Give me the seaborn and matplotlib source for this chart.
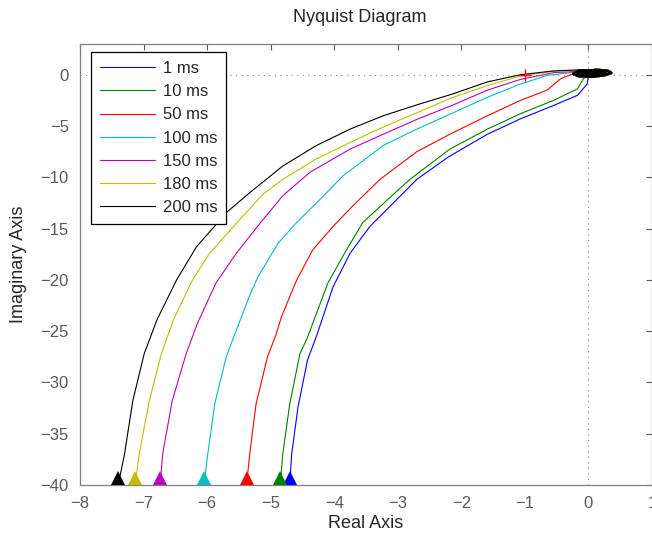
import numpy as np
import pandas as pd
import seaborn as sns
import matplotlib.pyplot as plt

sns.set_style("white")
plt.rcParams['font.family'] = ['Liberation Sans', 'DejaVu Sans']

labels = ['1 ms', '10 ms', '50 ms', '100 ms', '150 ms', '180 ms', '200 ms']
colors = ['b', 'g', 'r', 'c', 'm', 'y', 'k']

# curves, from the bottom (-40) up to the origin
re_1 = [-4.70, -4.67, -4.57, -4.42, -4.28, -4.02, -3.75, -3.44, -3.07, -2.70, -2.20, -1.59, -1.07, -0.55, -0.17, -0.02, 0.00]
im_1 = [-40.0, -37.0, -32.4, -27.8, -25.5, -20.7, -17.4, -14.8, -12.5, -10.2, -8.0, -5.8, -4.3, -3.0, -2.0, -0.9, -0.07]
re_10 = [-4.85, -4.81, -4.70, -4.54, -4.42, -4.10, -3.81, -3.55, -3.18, -2.81, -2.18, -1.59, -1.07, -0.55, -0.17, -0.08]
im_10 = [-40.0, -37.0, -32.1, -27.2, -25.6, -20.3, -17.1, -14.4, -12.3, -10.2, -7.25, -5.3, -3.8, -2.5, -1.37, -0.4]
re_50 = [-5.38, -5.33, -5.23, -5.05, -4.92, -4.83, -4.59, -4.34, -4.02, -3.71, -3.28, -2.70, -2.18, -1.59, -1.07, -0.65, -0.44, -0.28]
im_50 = [-40.0, -37.0, -32.1, -27.5, -25.4, -23.6, -20.0, -17.1, -14.8, -12.8, -10.2, -7.5, -5.8, -4.0, -2.5, -1.5, -0.4, 0.0]
re_100 = [-6.05, -5.99, -5.88, -5.70, -5.54, -5.33, -5.20, -4.88, -4.59, -4.23, -3.86, -3.23, -2.70, -2.16, -1.59, -1.07, -0.65, -0.28]
im_100 = [-40.0, -37.0, -32.1, -27.5, -24.9, -21.5, -19.7, -16.4, -14.4, -12.2, -9.85, -6.9, -5.3, -3.8, -2.2, -0.9, -0.07, 0.2]
re_150 = [-6.74, -6.70, -6.55, -6.33, -6.15, -5.86, -5.54, -5.17, -4.81, -4.38, -3.75, -3.23, -2.68, -2.15, -1.59, -1.07, -0.55, -0.17]
im_150 = [-40.0, -37.0, -31.8, -27.2, -24.2, -20.3, -17.4, -14.5, -11.8, -9.5, -7.25, -5.8, -4.3, -3.0, -1.5, -0.46, 0.2, 0.33]
re_180 = [-7.13, -7.07, -6.91, -6.72, -6.53, -6.23, -5.96, -5.44, -5.13, -4.81, -4.28, -3.75, -3.23, -2.68, -2.15, -1.59, -1.07, -0.55, -0.10]
im_180 = [-40.0, -37.0, -31.8, -27.2, -23.9, -20.0, -17.4, -13.8, -11.7, -10.2, -8.2, -6.6, -5.1, -3.65, -2.25, -1.05, -0.13, 0.33, 0.45]
re_200 = [-7.40, -7.30, -7.17, -6.99, -6.79, -6.48, -6.17, -5.69, -5.33, -4.81, -4.28, -3.75, -3.23, -2.68, -2.15, -1.59, -1.07, -0.55, -0.05]
im_200 = [-40.0, -37.0, -31.8, -27.2, -23.9, -20.0, -16.8, -13.4, -11.5, -8.9, -6.9, -5.3, -4.0, -2.9, -1.9, -0.7, 0.0, 0.37, 0.5]

# spiral the curves wind into around the origin
tail_re = [0.10, 0.30, 0.36, 0.25, 0.05, -0.15, -0.24, -0.15, 0.05, 0.22, 0.28, 0.18, 0.02, -0.12, -0.18, -0.08, 0.10, 0.20, 0.18, 0.06, -0.06, -0.10, 0.02, 0.14, 0.10, 0.00, 0.05]
tail_im = [0.48, 0.40, 0.18, -0.05, -0.20, -0.15, 0.10, 0.38, 0.42, 0.32, 0.12, -0.08, -0.14, -0.06, 0.15, 0.34, 0.34, 0.20, 0.04, -0.06, 0.00, 0.18, 0.28, 0.18, 0.04, 0.08, 0.16]

curves_re = [re_1, re_10, re_50, re_100, re_150, re_180, re_200]
curves_im = [im_1, im_10, im_50, im_100, im_150, im_180, im_200]

gray = '#5a5a5a'
fig = plt.figure(figsize=(6.52, 5.36), dpi=100)
ax = fig.add_axes([0.1227, 0.095, 0.8773, 0.823])

ax.axhline(0, color='#8c8c8c', lw=0.8, ls=(0, (1, 4)), zorder=0)
ax.axvline(0, color='#8c8c8c', lw=0.8, ls=(0, (1, 4)), zorder=0)

for xr, yi, lab, c in zip(curves_re, curves_im, labels, colors):
    df = pd.DataFrame({'re': xr + tail_re[:1], 'im': yi + tail_im[:1]})
    sns.lineplot(data=df, x='re', y='im', sort=False, estimator=None, color=c, lw=0.8, label=lab, ax=ax)
    # the dense spiral near the origin
    sns.lineplot(x=tail_re, y=tail_im, sort=False, estimator=None, color=c, lw=1.8, ax=ax)
    ax.plot(xr[0], -39.35, marker='^', color=c, ms=10, mew=0, clip_on=False, zorder=5)

ax.plot(-1, 0, marker='+', color='r', ms=8, mew=1)

ax.set_xlim(-8, 1)
ax.set_ylim(-40, 3)
ax.set_xticks(range(-8, 2))
ax.set_yticks(range(-40, 1, 5))
ax.set_xticklabels([str(v).replace('-', '\u2212') for v in range(-8, 2)])
ax.set_yticklabels([str(v).replace('-', '\u2212') for v in range(-40, 1, 5)])
ax.tick_params(direction='in', top=True, right=True, length=4, width=0.8, color=gray, labelcolor=gray, labelsize=12, pad=8)
for s in ax.spines.values():
    s.set_color('#7f7f7f')
    s.set_linewidth(0.9)

ax.set_xlabel('Real Axis', fontsize=13, labelpad=3)
ax.set_ylabel('Imaginary Axis', fontsize=13, labelpad=10)
ax.set_title('Nyquist Diagram', fontsize=13, pad=16, x=0.489)

leg = ax.legend(loc='upper left', bbox_to_anchor=(0.019, 0.982), borderaxespad=0, fontsize=12,
                handlelength=3.3, handletextpad=0.45, labelspacing=0.49, fancybox=False,
                framealpha=1, edgecolor='k', borderpad=0.55)
leg.get_frame().set_linewidth(0.9)

fig.savefig('out.png', dpi=100)
